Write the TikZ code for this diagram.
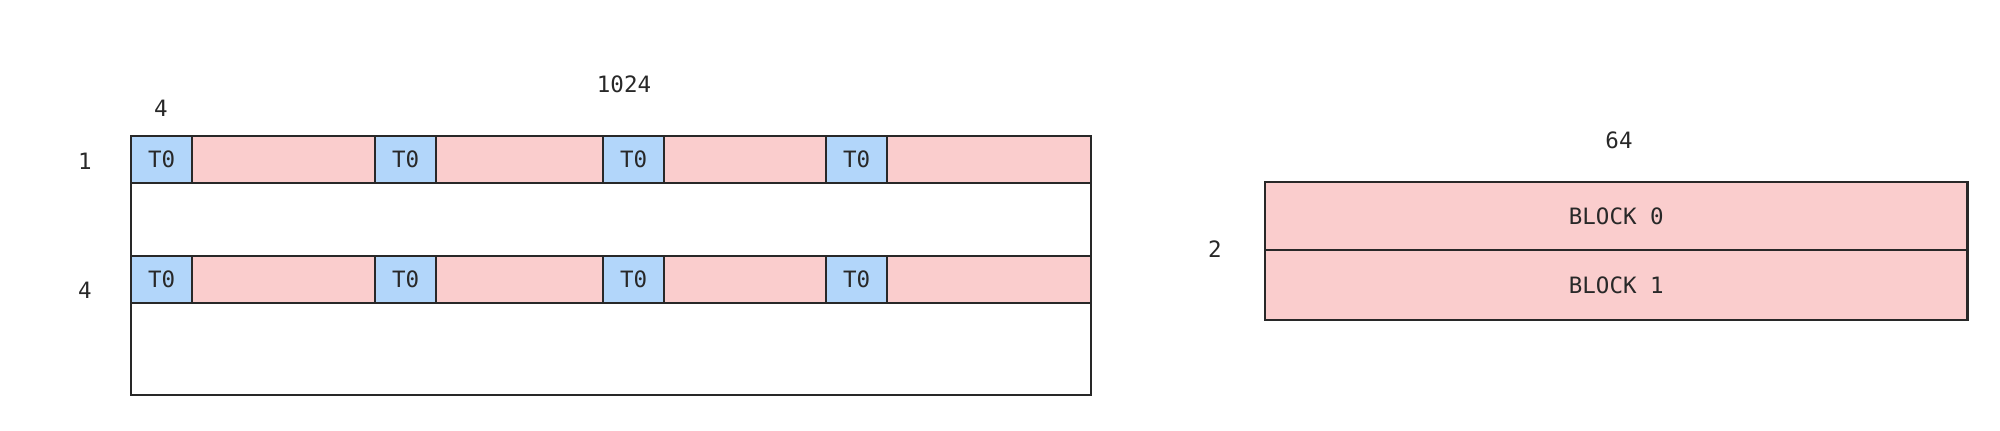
\documentclass[tikz,border=0pt]{standalone}
\usepackage{fontspec}
\setmonofont{DejaVu Sans Mono}
\definecolor{rowpink}{RGB}{250,205,205}
\definecolor{thrblue}{RGB}{178,214,250}
\definecolor{ink}{RGB}{40,40,40}
\tikzset{
  >=latex,
}
\tikzstyle{every node}=[font=\ttfamily\fontsize{6.4}{7.5}\selectfont,text=ink]
\tikzstyle{outline}=[draw=ink,line width=.6pt,inner sep=0pt,anchor=north west]
\tikzstyle{row}=[outline,fill=rowpink,minimum width=9.59cm,minimum height=.47cm]
\tikzstyle{thread}=[outline,fill=thrblue,minimum width=.61cm,minimum height=.47cm]
\tikzstyle{block}=[outline,fill=rowpink,minimum width=7.02cm]

\begin{document}
\begin{tikzpicture}[x=.01cm,y=-.01cm]
    \useasboundingbox (0,0) rectangle (2000,430);

    % grid of 4 rows
    \node[outline,minimum width=9.59cm,minimum height=2.59cm] (grid) at (130,135) {};
    \node[row] (row1) at (130,135) {};
    \node[row] (row2) at (130,255) {};
    \foreach \x/\n in {130/a,374/b,602/c,825/d}{
      \node[thread] (t1\n) at (\x,135) {T0};
      \node[thread] (t2\n) at (\x,255) {T0};
    }

    \node (width) at (624,84) {1024};
    \node (tw) at (161,108) {4};
    \node (h1) at (85,161) {1};
    \node (h4) at (85,290) {4};

    % blocks
    \node[block,minimum height=.68cm] (blk0) at (1264,181) {};
    \node[block,minimum height=.70cm] (blk1) at (1264,249) {};
    \node at (blk0.center) {BLOCK 0};
    \node at (blk1.center) {BLOCK 1};
    \node (bw) at (1619,140) {64};
    \node (bh) at (1215,249) {2};
  \end{tikzpicture}
\end{document}
